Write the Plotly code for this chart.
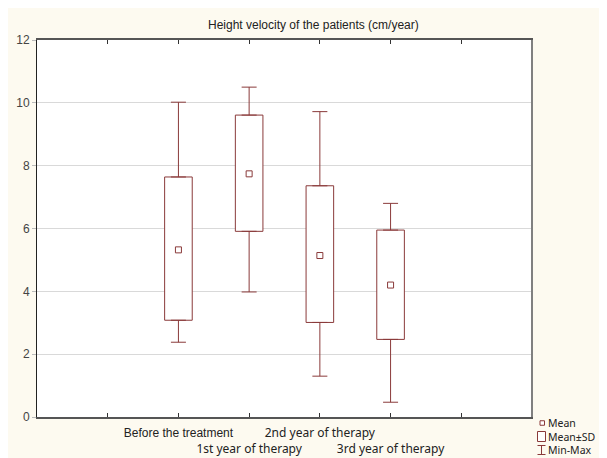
import plotly.graph_objects as go

categories = ["Before the treatment", "1st year of therapy", "2nd year of therapy", "3rd year of therapy"]
positions = [1, 2, 3, 4]
mean_vals = [5.32, 7.74, 5.14, 4.20]
sd_low = [3.08, 5.91, 3.01, 2.47]
sd_high = [7.64, 9.61, 7.36, 5.95]
min_vals = [2.38, 3.98, 1.30, 0.47]
max_vals = [10.02, 10.50, 9.72, 6.80]

y_ticks = [0, 2, 4, 6, 8, 10, 12]
legend_labels = ["Mean", "Mean±SD", "Min-Max"]

MAROON = "#8a3a3a"
SANS = "Liberation Sans, Arial, sans-serif"
SEGOE = "Noto Sans, Open Sans, sans-serif"

box_h = [h - l for h, l in zip(sd_high, sd_low)]
up_whisk = [mx - h for mx, h in zip(max_vals, sd_high)]
low_whisk = [l - mn for l, mn in zip(sd_low, min_vals)]
zeros = [0] * len(positions)

fig = go.Figure()

# upper whiskers (from box top to max)
fig.add_trace(go.Scatter(
    x=positions, y=sd_high, mode="markers",
    marker=dict(size=0.1, color="rgba(0,0,0,0)"),
    error_y=dict(type="data", symmetric=False, array=up_whisk, arrayminus=zeros,
                 color=MAROON, thickness=1, width=7.5),
    showlegend=False, hoverinfo="skip",
))
# lower whiskers (from min to box bottom)
fig.add_trace(go.Scatter(
    x=positions, y=sd_low, mode="markers",
    marker=dict(size=0.1, color="rgba(0,0,0,0)"),
    error_y=dict(type="data", symmetric=False, array=zeros, arrayminus=low_whisk,
                 color=MAROON, thickness=1, width=7.5),
    showlegend=False, hoverinfo="skip",
))

# Mean ± SD boxes
fig.add_trace(go.Bar(
    x=positions, y=box_h, base=sd_low, width=0.39,
    marker=dict(color="white", line=dict(color=MAROON, width=1)),
    showlegend=False, hoverinfo="skip",
))

# Means
fig.add_trace(go.Scatter(
    x=positions,
    y=mean_vals,
    mode="markers",
    marker=dict(symbol="square-open", size=6, color=MAROON, line=dict(width=1, color=MAROON)),
    showlegend=False,
    hoverinfo="skip",
))

tick_text = [""]
for i, c in enumerate(categories):
    if i == 0:
        tick_text.append(c)
    elif i % 2 == 1:
        tick_text.append("<br><span style='font-family:Noto Sans'>" + c + "</span>")
    else:
        tick_text.append("<span style='font-family:Noto Sans'>" + c + "</span>")
tick_text.append("")

# page has an 8px body margin; figure is placed at (8, 8)
OFF = 8
fig.update_layout(
    width=607 - OFF,
    height=458 - OFF,
    margin=dict(l=37 - OFF, r=607 - 532, t=40 - OFF, b=458 - 417),
    paper_bgcolor="#fdfaf0",
    plot_bgcolor="white",
    font=dict(family=SANS, size=12, color="#333"),
    showlegend=False,
    barmode="overlay",
    xaxis=dict(
        range=[-1, 6],
        tickvals=[0, 1, 2, 3, 4, 5],
        ticktext=tick_text,
        tickangle=0,
        automargin=False,
        ticks="inside",
        ticklen=4,
        tickcolor="#333",
        ticklabelstandoff=4,
        showgrid=False,
        zeroline=False,
        showline=True,
        linecolor="#555",
        linewidth=1.5,
        mirror="ticks",
        tickfont=dict(size=12, color="#222"),
        fixedrange=True,
    ),
    yaxis=dict(
        range=[0, 12],
        tickvals=y_ticks,
        automargin=False,
        ticks="outside",
        ticklen=4,
        tickcolor="#bbb",
        showgrid=True,
        gridcolor="#d9d9d9",
        gridwidth=1,
        zeroline=False,
        showline=True,
        linecolor="#222",
        linewidth=1,
        mirror=True,
        tickfont=dict(size=12, color="#444"),
        fixedrange=True,
    ),
)

# right frame edge (gray, thicker)
fig.add_shape(type="line", xref="paper", yref="paper", x0=1, x1=1, y0=0, y1=1,
              line=dict(color="#808080", width=2))

# Legend / title positions expressed in window pixels -> paper coords
def px_x(px):
    return (px - 37) / 495

def px_y(py):
    return (417 - py) / 377

# Title
fig.add_annotation(text="Height velocity of the patients (cm/year)", xref="paper", yref="paper",
                   x=px_x(313), y=px_y(25), xanchor="center", yanchor="middle",
                   showarrow=False, font=dict(family=SANS, size=12, color="#222"))

# Legend icons
# Mean: small square
fig.add_shape(type="rect", xref="paper", yref="paper",
              x0=px_x(540), x1=px_x(544.5), y0=px_y(425.25), y1=px_y(420.75),
              line=dict(color=MAROON, width=1), fillcolor="white")
# Mean±SD: box
fig.add_shape(type="rect", xref="paper", yref="paper",
              x0=px_x(537.5), x1=px_x(545.5), y0=px_y(441.5), y1=px_y(431.5),
              line=dict(color=MAROON, width=1), fillcolor="white")
# Min-Max: I-beam
fig.add_shape(type="line", xref="paper", yref="paper",
              x0=px_x(541.5), x1=px_x(541.5), y0=px_y(454.5), y1=px_y(445.5),
              line=dict(color=MAROON, width=1))
fig.add_shape(type="line", xref="paper", yref="paper",
              x0=px_x(537.5), x1=px_x(545.5), y0=px_y(445.5), y1=px_y(445.5),
              line=dict(color=MAROON, width=1))
fig.add_shape(type="line", xref="paper", yref="paper",
              x0=px_x(537.5), x1=px_x(545.5), y0=px_y(454.5), y1=px_y(454.5),
              line=dict(color=MAROON, width=1))
# Legend labels (one multi-line text block)
fig.add_annotation(text="<br>".join(legend_labels), xref="paper", yref="paper",
                   x=px_x(546.5), y=px_y(436.5), xanchor="left", yanchor="middle", align="left",
                   showarrow=False, borderpad=0,
                   font=dict(family=SEGOE, size=10.5, color="#222"))

fig.write_html("out.html")
